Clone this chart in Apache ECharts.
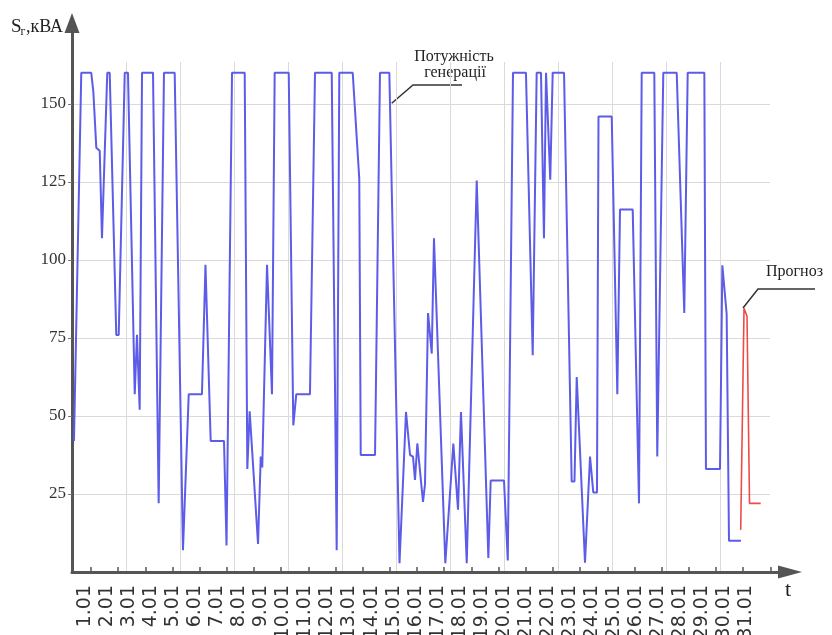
<!DOCTYPE html>
<html>
<head>
<meta charset="utf-8">
<script src="https://cdn.jsdelivr.net/npm/echarts@6/dist/echarts.min.js"></script>
<style>html,body{margin:0;padding:0;background:#fff}#c{width:832px;height:635px}</style>
</head>
<body>
<div id="c"></div>
<script>
// ---- data (time in hours from start of January, power in kVA) ----
const genHours = [2.2,10.3,21.4,23.7,27,30.8,33.3,39.2,41.9,49.2,51.9,58.6,62.2,69.7,72.2,75.2,77.8,90,96.3,102.2,114.1,123.3,129.7,144.4,148.3,154.1,168.9,171.7,177.8,191.9,194.8,197.4,206.7,209.7,211.4,216.7,222.2,225.2,240.8,245.9,249.2,264.4,270,288.6,294.1,297,311.9,319.2,320.8,336.7,342.2,352.6,363.9,371.1,375.6,378.9,381.1,383.7,390,392.2,395.6,399.7,402.2,414.8,423.7,428.9,432.2,438.6,449.7,462.6,465.2,480,484.2,490,504.4,511.9,516.3,521.1,524.4,526.7,528.9,531.4,534.1,546.7,555.2,558.3,560.8,570,575.6,579.2,583.3,585,599.7,605.9,608.9,623,630,633,647,650.3,657,671.9,680.3,684.1,702.6,704.4,720,722.6,727.4,730,743.3];
const genPower = [42,160,160,154,136,135,107,160,160,76,76,160,160,57,76,52,160,160,22,160,160,7,57,57,98.5,42,42,8.5,160,160,33,51.5,9,37,33.5,98.5,57,160,160,47,57,57,160,160,7,160,160,126,37.5,37.5,160,160,2.8,51.3,37.5,37,29.5,41.2,22.5,28,83,70,107,2.8,41.2,20,51.3,2.8,125.5,4.5,29.3,29.3,3.7,160,160,69.5,160,160,107,160,160,125.7,160,160,29,29,62.5,3,37,25.5,25.5,146,146,57,116.2,116.2,22,160,160,37,160,160,83,160,160,33,33,98.3,82.7,10,10];
const forecastHours = [743,746.7,750,752.8,765.2];
const forecastPower = [13.5,84.5,82,22,22];
const dayLabels = ['1.01','2.01','3.01','4.01','5.01','6.01','7.01','8.01','9.01','10.01','11.01','12.01','13.01','14.01','15.01','16.01','17.01','18.01','19.01','20.01','21.01','22.01','23.01','24.01','25.01','26.01','27.01','28.01','29.01','30.01','31.01'];
const yTickValues = [25,50,75,100,125,150];

// ---- layout ----
const PX_H = 0.9, PX_V = 3.12;
const X0 = 72, Y0 = 572;
const dataRight = 770, dataTop = 62;
const axisRight = 790, axisTop = 23;
const labelStart = 14.4, labelStep = 24.5;
const tickStart = 21, tickStep = 30.2, tickCount = 26;

const labelHours = dayLabels.map((d, i) => labelStart + i * labelStep);
const tickHours = [];
for (let k = 0; k < tickCount; k++) tickHours.push(tickStart + k * tickStep);

const genData = genHours.map((h, i) => [h, genPower[i]]);
const fcData = forecastHours.map((h, i) => [h, forecastPower[i]]);

const chart = echarts.init(document.getElementById('c'), null, {renderer: 'canvas'});
const serif = '"Liberation Serif", "Times New Roman", serif';
const sans = '"DejaVu Sans", Arial, sans-serif';

chart.setOption({
  animation: false,
  backgroundColor: '#ffffff',
  grid: [
    {left: X0, top: axisTop, width: axisRight - X0, height: Y0 - axisTop, containLabel: false, outerBoundsMode: 'none'},
    {left: X0, top: dataTop, width: dataRight - X0, height: Y0 - dataTop, containLabel: false, outerBoundsMode: 'none'}
  ],
  xAxis: [
    {
      gridIndex: 0, type: 'value', min: 0, max: (axisRight - X0) / PX_H,
      axisLine: {show: true, lineStyle: {color: '#555', width: 3}, symbol: ['none', 'triangle'], symbolSize: [13, 24]},
      axisTick: {show: true, inside: true, length: 5, customValues: tickHours, lineStyle: {color: '#555', width: 1.5}},
      axisLabel: {
        show: true, customValues: labelHours, rotate: 90, margin: 13,
        fontFamily: sans, fontSize: 19, color: '#333',
        formatter: function (v) {
          const i = Math.round((v - labelStart) / labelStep);
          return dayLabels[i] || '';
        }
      },
      splitLine: {show: false}
    },
    {
      gridIndex: 1, type: 'value', min: 0, max: (dataRight - X0) / PX_H, interval: 60,
      axisLine: {show: false}, axisTick: {show: false}, axisLabel: {show: false},
      splitLine: {show: true, showMinLine: false, showMaxLine: false, lineStyle: {color: '#dadada', width: 1}}
    }
  ],
  yAxis: [
    {
      gridIndex: 0, type: 'value', min: 0, max: (Y0 - axisTop) / PX_V,
      axisLine: {show: true, lineStyle: {color: '#555', width: 3}, symbol: ['none', 'triangle'], symbolSize: [15, 20]},
      axisTick: {show: true, length: 4, customValues: yTickValues, lineStyle: {color: '#777', width: 1}},
      axisLabel: {show: true, customValues: yTickValues, margin: 6, fontFamily: serif, fontSize: 17, color: '#333'},
      splitLine: {show: false}
    },
    {
      gridIndex: 1, type: 'value', min: 0, max: (Y0 - dataTop) / PX_V, interval: 25,
      axisLine: {show: false}, axisTick: {show: false}, axisLabel: {show: false},
      splitLine: {show: true, showMinLine: false, showMaxLine: false, lineStyle: {color: '#dadada', width: 1}}
    }
  ],
  series: [
    {
      name: 'Потужність генерації', type: 'line', xAxisIndex: 1, yAxisIndex: 1,
      data: genData, showSymbol: false, smooth: false,
      lineStyle: {color: '#5c5ce8', width: 2}, z: 5
    },
    {
      name: 'Прогноз', type: 'line', xAxisIndex: 1, yAxisIndex: 1,
      data: fcData, showSymbol: false, smooth: false,
      lineStyle: {color: '#ee4a4a', width: 1.6}, z: 6
    }
  ],
  graphic: [
    {type: 'text', x: 11, y: 27, style: {text: 'S', font: '19px ' + serif, fill: '#222', align: 'left', verticalAlign: 'middle'}},
    {type: 'text', x: 20.5, y: 31.5, style: {text: 'г', font: '12px ' + serif, fill: '#222', align: 'left', verticalAlign: 'middle'}},
    {type: 'text', x: 26, y: 27, style: {text: ',кВА', font: '18px ' + serif, fill: '#222', align: 'left', verticalAlign: 'middle'}},
    {type: 'text', x: 788, y: 590, style: {text: 't', font: '22px ' + serif, fill: '#222', align: 'center', verticalAlign: 'middle'}},
    {type: 'polyline', shape: {points: [[391.7, 103.3], [413, 85], [462, 85]]}, style: {stroke: '#333', lineWidth: 1.5, fill: null}},
    {type: 'text', x: 454, y: 57, style: {text: 'Потужність', font: '16px ' + serif, fill: '#222', align: 'center', verticalAlign: 'middle'}},
    {type: 'text', x: 455, y: 73, style: {text: 'генерації', font: '16px ' + serif, fill: '#222', align: 'center', verticalAlign: 'middle'}},
    {type: 'polyline', shape: {points: [[743, 308], [758, 289], [815, 289]]}, style: {stroke: '#333', lineWidth: 1.5, fill: null}},
    {type: 'text', x: 766, y: 272, style: {text: 'Прогноз', font: '16px ' + serif, fill: '#222', align: 'left', verticalAlign: 'middle'}}
  ]
});
</script>
</body>
</html>
